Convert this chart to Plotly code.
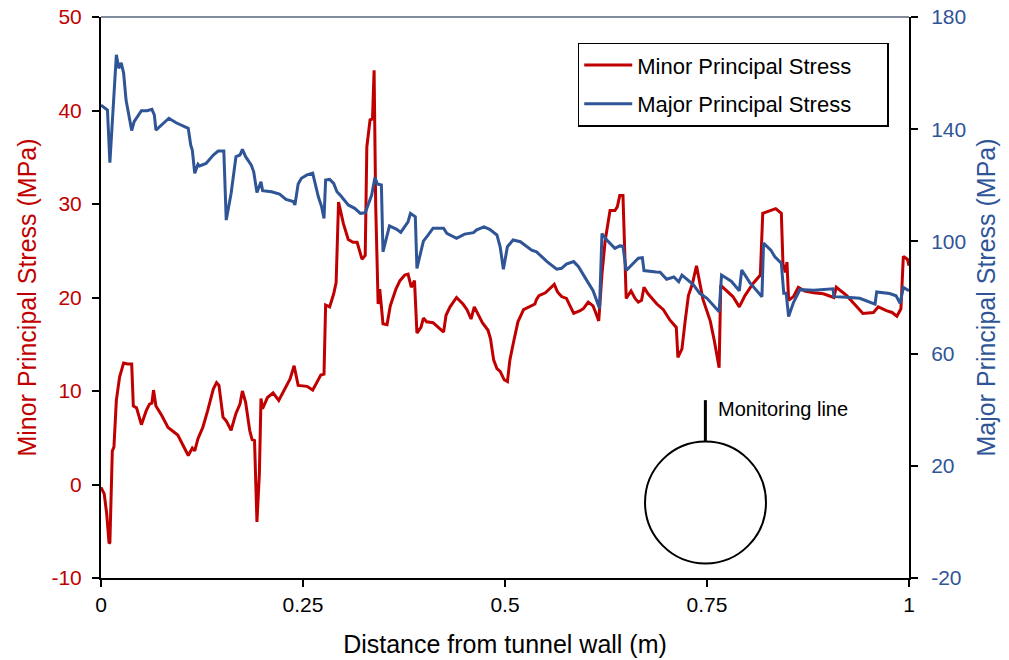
import plotly.graph_objects as go

# Minor principal stress along the monitoring line (MPa)
minor_x = [0.000, 0.004, 0.007, 0.010, 0.011, 0.014, 0.016, 0.019, 0.023, 0.028, 0.033, 0.038,
           0.040, 0.044, 0.050, 0.056, 0.060, 0.063, 0.065, 0.068, 0.075, 0.083, 0.095, 0.101,
           0.108, 0.113, 0.116, 0.120, 0.126, 0.132, 0.139, 0.143, 0.146, 0.151, 0.155, 0.161,
           0.167, 0.172, 0.175, 0.179, 0.184, 0.187, 0.190, 0.193, 0.196, 0.198, 0.200, 0.206,
           0.213, 0.220, 0.227, 0.234, 0.239, 0.244, 0.255, 0.262, 0.267, 0.272, 0.276, 0.278,
           0.283, 0.288, 0.291, 0.294, 0.300, 0.306, 0.312, 0.317, 0.323, 0.327, 0.329, 0.333,
           0.336, 0.338, 0.340, 0.343, 0.345, 0.349, 0.354, 0.358, 0.365, 0.370, 0.376, 0.380,
           0.384, 0.388, 0.391, 0.396, 0.399, 0.403, 0.411, 0.417, 0.424, 0.427, 0.432, 0.440,
           0.448, 0.453, 0.458, 0.462, 0.467, 0.472, 0.479, 0.482, 0.486, 0.490, 0.494, 0.499,
           0.503, 0.506, 0.510, 0.516, 0.523, 0.531, 0.537, 0.539, 0.542, 0.550, 0.561, 0.565,
           0.570, 0.576, 0.585, 0.593, 0.597, 0.603, 0.609, 0.613, 0.616, 0.620, 0.624, 0.630,
           0.636, 0.639, 0.642, 0.646, 0.648, 0.650, 0.656, 0.661, 0.665, 0.669, 0.672, 0.677,
           0.688, 0.696, 0.704, 0.712, 0.714, 0.719, 0.723, 0.727, 0.732, 0.737, 0.745, 0.754,
           0.759, 0.765, 0.767, 0.774, 0.782, 0.790, 0.797, 0.807, 0.816, 0.819, 0.828, 0.835,
           0.842, 0.844, 0.847, 0.849, 0.851, 0.857, 0.863, 0.871, 0.882, 0.894, 0.907, 0.910,
           0.923, 0.933, 0.943, 0.956, 0.962, 0.972, 0.979, 0.985, 0.990, 0.993, 0.998, 1.000]
minor_stress = [-0.3, -1.0, -3.1, -6.3, -6.2, 3.6, 4.0, 9.0, 11.5, 13.0, 12.9, 12.9,
                8.4, 8.2, 6.4, 7.9, 8.6, 8.7, 10.1, 8.4, 7.4, 6.1, 5.3, 4.3,
                3.1, 3.9, 3.6, 4.9, 6.1, 7.9, 10.2, 10.9, 10.6, 7.2, 6.8, 5.8,
                7.6, 8.6, 10.0, 8.8, 5.8, 4.8, 4.7, -4.0, 1.1, 9.2, 8.1, 9.3,
                9.8, 9.0, 10.2, 11.3, 12.7, 10.6, 10.5, 10.1, 10.9, 11.7, 11.8, 19.2,
                19.0, 20.4, 21.6, 30.2, 27.9, 26.2, 25.9, 25.9, 24.1, 24.5, 36.1, 39.0,
                39.1, 44.3, 29.7, 19.3, 20.9, 17.2, 17.1, 19.1, 20.9, 21.8, 22.4, 22.5,
                21.1, 21.8, 16.2, 16.8, 17.8, 17.4, 17.3, 16.8, 16.3, 18.1, 19.0, 20.0,
                19.3, 18.7, 17.7, 19.0, 18.1, 17.3, 16.5, 15.6, 13.3, 12.4, 12.1, 11.2,
                11.0, 13.3, 15.0, 17.4, 18.7, 19.0, 19.3, 19.8, 20.2, 20.5, 21.4, 20.6,
                20.1, 19.9, 18.3, 18.6, 18.8, 19.5, 19.1, 18.2, 17.5, 22.5, 26.1, 29.3,
                29.3, 29.7, 30.9, 30.9, 26.4, 19.9, 20.7, 19.9, 19.5, 19.7, 21.1, 20.4,
                19.3, 18.7, 17.6, 16.8, 13.6, 14.5, 17.5, 20.2, 21.5, 23.4, 19.8, 17.5,
                15.4, 12.5, 21.3, 20.7, 20.1, 19.0, 20.2, 21.5, 22.4, 29.0, 29.3, 29.5,
                29.0, 23.6, 22.7, 23.8, 19.7, 20.1, 21.1, 20.7, 20.5, 20.4, 20.0, 21.1,
                20.2, 19.3, 18.3, 18.4, 19.0, 18.6, 18.4, 18.0, 18.8, 24.4, 24.1, 23.4]

# Major principal stress along the monitoring line (MPa)
major_x = [0.000, 0.008, 0.011, 0.019, 0.022, 0.025, 0.028, 0.031, 0.038, 0.041, 0.050, 0.057,
           0.063, 0.066, 0.068, 0.075, 0.084, 0.093, 0.108, 0.111, 0.113, 0.116, 0.120, 0.122,
           0.130, 0.139, 0.145, 0.152, 0.155, 0.161, 0.167, 0.172, 0.175, 0.179, 0.186, 0.189,
           0.193, 0.198, 0.200, 0.211, 0.221, 0.229, 0.238, 0.240, 0.244, 0.248, 0.255, 0.262,
           0.269, 0.273, 0.276, 0.278, 0.283, 0.288, 0.292, 0.296, 0.306, 0.314, 0.321, 0.327,
           0.335, 0.339, 0.342, 0.347, 0.349, 0.357, 0.366, 0.371, 0.380, 0.383, 0.389, 0.391,
           0.399, 0.405, 0.411, 0.424, 0.428, 0.440, 0.450, 0.461, 0.465, 0.474, 0.481, 0.490,
           0.494, 0.498, 0.503, 0.510, 0.519, 0.533, 0.539, 0.552, 0.564, 0.570, 0.576, 0.585,
           0.591, 0.601, 0.609, 0.617, 0.620, 0.626, 0.636, 0.642, 0.646, 0.650, 0.658, 0.665,
           0.670, 0.672, 0.687, 0.692, 0.700, 0.709, 0.715, 0.719, 0.733, 0.741, 0.750, 0.765,
           0.768, 0.780, 0.790, 0.793, 0.803, 0.818, 0.820, 0.829, 0.834, 0.842, 0.845, 0.848,
           0.851, 0.857, 0.865, 0.882, 0.906, 0.907, 0.923, 0.939, 0.958, 0.960, 0.976, 0.984,
           0.989, 0.993, 1.000]
major_stress = [148.6, 146.8, 128.1, 166.5, 161.7, 163.7, 160.0, 150.4, 139.5, 142.7, 146.6, 146.6,
                147.1, 145.1, 139.7, 141.5, 143.9, 142.3, 140.3, 134.4, 132.6, 124.3, 127.5, 126.9,
                127.8, 130.8, 132.2, 132.2, 107.6, 117.1, 130.2, 130.8, 132.8, 130.2, 127.2, 124.8,
                117.4, 121.3, 118.1, 117.7, 116.9, 115.0, 114.2, 113.0, 120.5, 122.5, 123.7, 124.3,
                115.9, 112.4, 108.2, 121.9, 122.1, 120.7, 117.7, 116.5, 113.0, 111.8, 110.0, 110.2,
                116.5, 122.8, 120.5, 120.1, 96.3, 105.5, 104.3, 103.2, 107.0, 110.0, 108.8, 90.4,
                100.1, 102.3, 104.7, 104.7, 102.9, 101.1, 102.6, 103.1, 104.1, 105.2, 104.3, 102.3,
                98.1, 90.1, 98.1, 100.5, 99.9, 96.9, 96.3, 92.8, 90.1, 90.4, 91.9, 92.8,
                91.0, 86.2, 82.4, 76.1, 102.8, 100.5, 97.5, 98.4, 98.3, 89.6, 92.0, 94.0,
                94.2, 89.6, 89.1, 89.0, 86.5, 87.3, 85.6, 88.0, 84.6, 81.5, 79.7, 74.9,
                88.0, 85.8, 82.4, 89.8, 85.3, 80.3, 99.4, 96.9, 94.5, 92.2, 81.5, 81.5,
                73.2, 78.2, 82.8, 82.6, 83.1, 80.3, 80.1, 79.7, 77.6, 82.0, 81.4, 80.6,
                77.9, 83.6, 82.4]

x_ticks = [0, 0.25, 0.5, 0.75, 1]
x_tick_text = ["0", "0.25", "0.5", "0.75", "1"]
minor_ticks = [-10, 0, 10, 20, 30, 40, 50]
minor_tick_text = ["-10", "0", "10", "20", "30", "40", "50"]
major_ticks = [-20, 20, 60, 100, 140, 180]
major_tick_text = ["-20", "20", "60", "100", "140", "180"]

RED = "#C00000"
BLUE = "#2F5597"
FONT = "Liberation Sans, Arial, sans-serif"
PAD = "\u00a0" * 5

fig = go.Figure()
fig.add_trace(go.Scatter(x=minor_x, y=minor_stress, mode="lines",
                         name="Minor Principal Stress" + PAD,
                         line=dict(color=RED, width=3), yaxis="y", legendgroup="a"))
fig.add_trace(go.Scatter(x=major_x, y=major_stress, mode="lines",
                         name="Major Principal Stress" + PAD,
                         line=dict(color=BLUE, width=3), yaxis="y2", legendgroup="b"))

axis_common = dict(showgrid=False, zeroline=False, showline=True, linecolor="black",
                   linewidth=2, ticks="outside", ticklen=7, tickwidth=1.5,
                   tickcolor="black", automargin=False)

fig.update_layout(
    width=1009, height=660,
    margin=dict(l=101, r=100, t=17, b=82),
    paper_bgcolor="white", plot_bgcolor="white",
    font=dict(family=FONT, color="black"),
    showlegend=True,
    legend=dict(x=0.590, y=0.954, xanchor="left", yanchor="top",
                bordercolor="black", borderwidth=1.5, bgcolor="white",
                font=dict(size=22, color="black"), tracegroupgap=7,
                itemwidth=48),
    xaxis=dict(range=[0, 1], tickvals=x_ticks, ticktext=x_tick_text,
               tickfont=dict(size=21, color="black"),
               title=dict(text="Distance from tunnel wall (m)", font=dict(size=25, color="black"),
                          standoff=20),
               **axis_common),
    yaxis=dict(range=[-10, 50], tickvals=minor_ticks, ticktext=minor_tick_text,
               tickfont=dict(size=21, color=RED), ticklabelstandoff=6,
               title=dict(text="Minor Principal Stress (MPa)", font=dict(size=25, color=RED),
                          standoff=8),
               **axis_common),
    yaxis2=dict(range=[-20, 180], tickvals=major_ticks, ticktext=major_tick_text,
                overlaying="y", side="right",
                tickfont=dict(size=21, color=BLUE), ticklabelstandoff=9,
                title=dict(text="Major Principal Stress (MPa)", font=dict(size=25, color=BLUE),
                           standoff=12),
                **axis_common),
)

# top frame edge
fig.add_shape(type="line", xref="paper", yref="paper", x0=0, x1=1, y0=1, y1=1,
              line=dict(color="#7f8b9b", width=2))

# tunnel cross-section sketch with the monitoring line
fig.add_shape(type="circle", xref="paper", yref="paper",
              x0=0.6733, x1=0.8230, y0=0.0258, y1=0.2433,
              line=dict(color="black", width=2))
fig.add_shape(type="line", xref="paper", yref="paper",
              x0=0.748, x1=0.748, y0=0.2433, y1=0.317,
              line=dict(color="black", width=3))
fig.add_annotation(text="Monitoring line", xref="paper", yref="paper",
                   x=0.761, y=0.301, xanchor="left", yanchor="middle", showarrow=False,
                   font=dict(size=20, color="black"))

fig.write_html("out.html")
